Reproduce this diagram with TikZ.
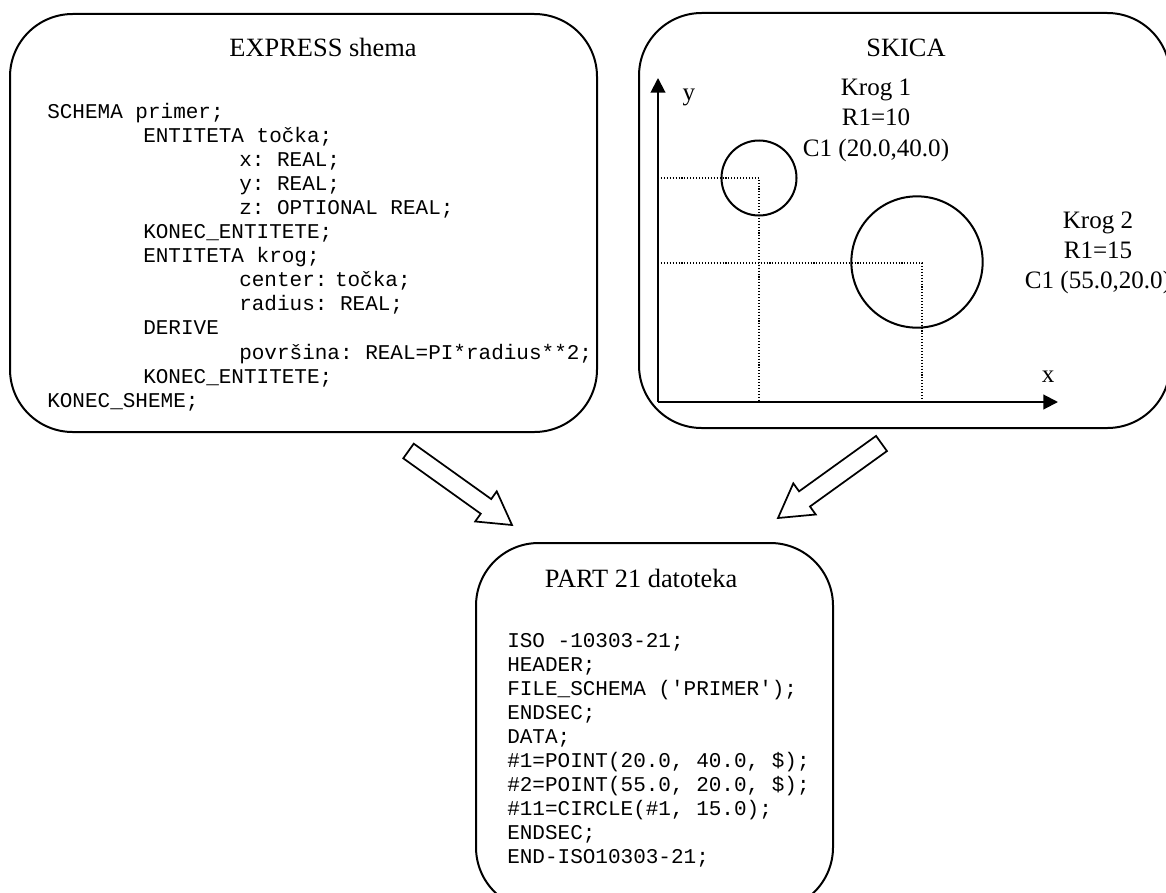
\documentclass[tikz,border=0pt]{standalone}
\usepackage{fontspec}
\setmainfont{Liberation Serif}
\setmonofont{Liberation Mono}
\usetikzlibrary{calc,arrows.meta}
\begin{document}
\begin{tikzpicture}[x=0.75pt,y=-0.75pt,
  box/.style={draw, line width=1.5pt, rounded corners=47pt},
  code/.style={font=\ttfamily\fontsize{15.75pt}{18pt}\selectfont, anchor=base west, inner sep=0pt},
  ttl/.style={font=\fontsize{19.8pt}{24pt}\selectfont, anchor=base, inner sep=0pt},
  lbl/.style={font=\fontsize{18.8pt}{22pt}\selectfont, anchor=base, inner sep=0pt},
  barrow/.style={draw, line width=1.3pt, fill=white, line join=miter},
  axis/.style={line width=1.5pt, -{Triangle[length=11pt,width=11pt]}},
  guide/.style={line width=0.8pt, dash pattern=on 0.8pt off 1.4pt},
  circ/.style={circle, draw, line width=1.5pt, inner sep=0pt}]
\useasboundingbox (0,0) rectangle (1166,892);

% ---------- boxes ----------
\draw[box] (10,14) rectangle (597,432);
\draw[box] (639,13) rectangle (1170,428);
\draw[box] (476,543) rectangle (833,910);

% ---------- EXPRESS box ----------
\node[ttl] (t1) at (323,57) {EXPRESS shema};
\node[code] (a0)  at (47,118)    {SCHEMA primer;};
\node[code] (a1)  at (143,142.1) {ENTITETA točka;};
\node[code] (a2)  at (239,166.2) {x: REAL;};
\node[code] (a3)  at (239,190.3) {y: REAL;};
\node[code] (a4)  at (239,214.4) {z: OPTIONAL REAL;};
\node[code] (a5)  at (143,238.5) {KONEC\_ENTITETE;};
\node[code] (a6)  at (143,262.6) {ENTITETA krog;};
\node[code] (a7)  at (239,286.7) {center:\hspace{0.36em}točka;};
\node[code] (a8)  at (239,310.8) {radius: REAL;};
\node[code] (a9)  at (143,334.9) {DERIVE};
\node[code] (a10) at (239,359.0) {površina: REAL=PI*radius**2;};
\node[code] (a11) at (143,383.1) {KONEC\_ENTITETE;};
\node[code] (a12) at (47,407.2)  {KONEC\_SHEME;};

% ---------- SKICA box ----------
\node[ttl] (t2) at (906,57) {SKICA};
\coordinate (O) at (658,402);
\coordinate (Ytip) at (658,78);
\coordinate (Xtip) at (1058,402);
\node[circ, minimum size=56.25pt] (k1) at (759,178) {};
\node[circ, minimum size=98.5pt] (k2) at (917,262) {};
\coordinate (c1) at (759,178);
\coordinate (c2) at (922,263);
\draw[guide] (O |- c1) -- (c1) -- (c1 |- O);
\draw[guide] (O |- c2) -- (c2) -- (c2 |- O);
\draw[axis] (O) -- (Ytip);
\draw[axis] (O) -- (Xtip);
\node[lbl] (ly) at (689,100) {y};
\node[lbl] (lx) at (1048,382) {x};
\node[lbl] (k1a) at (876,95)  {Krog 1};
\node[lbl] (k1b) at (876,125.5) {R1=10};
\node[lbl] (k1c) at (876,156) {C1 (20.0,40.0)};
\node[lbl] (k2a) at (1098,228) {Krog 2};
\node[lbl] (k2b) at (1098,258) {R1=15};
\node[lbl] (k2c) at (1098,288) {C1 (55.0,20.0)};

% ---------- PART 21 box ----------
\node[ttl] (t3) at (641,587) {PART 21 datoteka};
\node[code] (b0) at (507,647.0) {ISO -10303-21;};
\node[code] (b1) at (507,671.1) {HEADER;};
\node[code] (b2) at (507,695.2) {FILE\_SCHEMA ('PRIMER');};
\node[code] (b3) at (507,719.3) {ENDSEC;};
\node[code] (b4) at (507,743.4) {DATA;};
\node[code] (b5) at (507,767.5) {\#1=POINT(20.0, 40.0, \$);};
\node[code] (b6) at (507,791.6) {\#2=POINT(55.0, 20.0, \$);};
\node[code] (b7) at (507,815.7) {\#11=CIRCLE(\#1, 15.0);};
\node[code] (b8) at (507,839.8) {ENDSEC;};
\node[code] (b9) at (507,863.9) {END-ISO10303-21;};

% ---------- block arrows ----------
\coordinate (T1) at (408.5,451);
\coordinate (P1) at (512,525);
\coordinate (B1) at ($(P1)!24pt!(T1)$);
\draw[barrow] ($(T1)!6.75pt!90:(P1)$) -- ($(B1)!6.75pt!-90:(T1)$) -- ($(B1)!13.9pt!-90:(T1)$)
  -- (P1) -- ($(B1)!13.9pt!90:(T1)$) -- ($(B1)!6.75pt!90:(T1)$) -- ($(T1)!6.75pt!-90:(P1)$) -- cycle;
\coordinate (T2) at (881.5,443.5);
\coordinate (P2) at (778,518);
\coordinate (B2) at ($(P2)!24.5pt!(T2)$);
\draw[barrow] ($(T2)!7pt!90:(P2)$) -- ($(B2)!7pt!-90:(T2)$) -- ($(B2)!14.4pt!-90:(T2)$)
  -- (P2) -- ($(B2)!14.4pt!90:(T2)$) -- ($(B2)!7pt!90:(T2)$) -- ($(T2)!7pt!-90:(P2)$) -- cycle;
\end{tikzpicture}
\end{document}
